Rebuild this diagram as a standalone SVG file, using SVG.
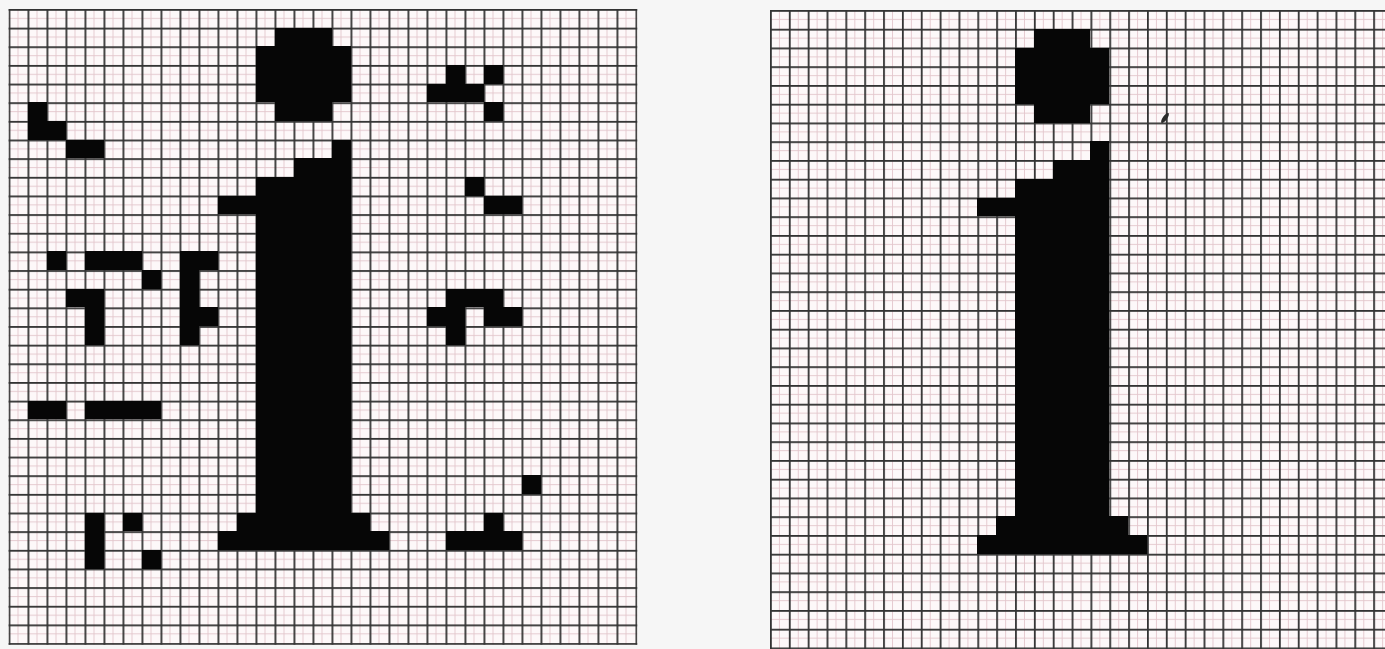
<svg xmlns="http://www.w3.org/2000/svg" width="1385" height="649" viewBox="0 0 1385 649">
  <style>
    .px { fill: #060606; shape-rendering: crispEdges; }
  </style>
  <defs>
    <pattern id="gridL" patternUnits="userSpaceOnUse" x="8.5" y="9" width="19" height="18.65">
      <rect width="19" height="18.65" fill="#fdf8f9"/>
      <rect x="9" y="0" width="0.9" height="18.65" fill="#e3c6cc"/>
      <rect x="0" y="9" width="19" height="0.9" fill="#e3c6cc"/>
      <rect x="0" y="0" width="1.8" height="18.65" fill="#333333"/>
      <rect x="0" y="0" width="19" height="1.8" fill="#333333"/>
    </pattern>
    <pattern id="gridR" patternUnits="userSpaceOnUse" x="770" y="10" width="18.85" height="18.75">
      <rect width="18.85" height="18.75" fill="#fdf8f9"/>
      <rect x="9" y="0" width="0.9" height="18.75" fill="#e3c6cc"/>
      <rect x="0" y="9" width="18.85" height="0.9" fill="#e3c6cc"/>
      <rect x="0" y="0" width="1.8" height="18.75" fill="#333333"/>
      <rect x="0" y="0" width="18.85" height="1.8" fill="#333333"/>
    </pattern>
    <g id="glyph-i">
      <rect x="14" y="1" width="3" height="1"/>
      <rect x="13" y="2" width="5" height="3"/>
      <rect x="14" y="5" width="3" height="1"/>
      <rect x="17" y="7" width="1" height="1"/>
      <rect x="15" y="8" width="3" height="1"/>
      <rect x="13" y="9" width="5" height="1"/>
      <rect x="11" y="10" width="7" height="1"/>
      <rect x="13" y="11" width="5" height="16"/>
      <rect x="12" y="27" width="7" height="1"/>
      <rect x="11" y="28" width="9" height="1"/>
    </g>
  </defs>

  <rect id="background" x="0" y="0" width="1385" height="649" fill="#f6f6f6"/>

  <g id="left-panel">
    <rect id="left-grid" x="8.5" y="9" width="628.8" height="635.9" fill="url(#gridL)"/>
    <g id="left-glyph" class="px" transform="translate(8.5 9) scale(19 18.65)">
      <use href="#glyph-i"/>
    </g>
    <g id="left-fragments" class="px" transform="translate(8.5 9) scale(19 18.65)">
      <rect x="1" y="5" width="1" height="2"/>
      <rect x="2" y="6" width="1" height="1"/>
      <rect x="3" y="7" width="2" height="1"/>
      <rect x="23" y="3" width="1" height="1"/>
      <rect x="25" y="3" width="1" height="1"/>
      <rect x="22" y="4" width="3" height="1"/>
      <rect x="25" y="5" width="1" height="1"/>
      <rect x="24" y="9" width="1" height="1"/>
      <rect x="25" y="10" width="2" height="1"/>
      <rect x="2" y="13" width="1" height="1"/>
      <rect x="4" y="13" width="3" height="1"/>
      <rect x="7" y="14" width="1" height="1"/>
      <rect x="3" y="15" width="2" height="1"/>
      <rect x="4" y="16" width="1" height="2"/>
      <rect x="9" y="13" width="2" height="1"/>
      <rect x="9" y="14" width="1" height="4"/>
      <rect x="10" y="16" width="1" height="1"/>
      <rect x="23" y="15" width="3" height="1"/>
      <rect x="22" y="16" width="2" height="1"/>
      <rect x="25" y="16" width="2" height="1"/>
      <rect x="23" y="17" width="1" height="1"/>
      <rect x="1" y="21" width="2" height="1"/>
      <rect x="4" y="21" width="4" height="1"/>
      <rect x="4" y="27" width="1" height="3"/>
      <rect x="6" y="27" width="1" height="1"/>
      <rect x="7" y="29" width="1" height="1"/>
      <rect x="27" y="25" width="1" height="1"/>
      <rect x="25" y="27" width="1" height="1"/>
      <rect x="23" y="28" width="4" height="1"/>
    </g>
  </g>

  <g id="right-panel">
    <rect id="right-grid" x="770" y="10" width="615" height="639" fill="url(#gridR)"/>
    <g id="right-glyph" class="px" transform="translate(770 10) scale(18.85 18.75)">
      <use href="#glyph-i"/>
    </g>
    <ellipse id="smudge" cx="1165" cy="118" rx="2.2" ry="6" transform="rotate(35 1165 118)" fill="#2a2a2a"/>
  </g>
</svg>
